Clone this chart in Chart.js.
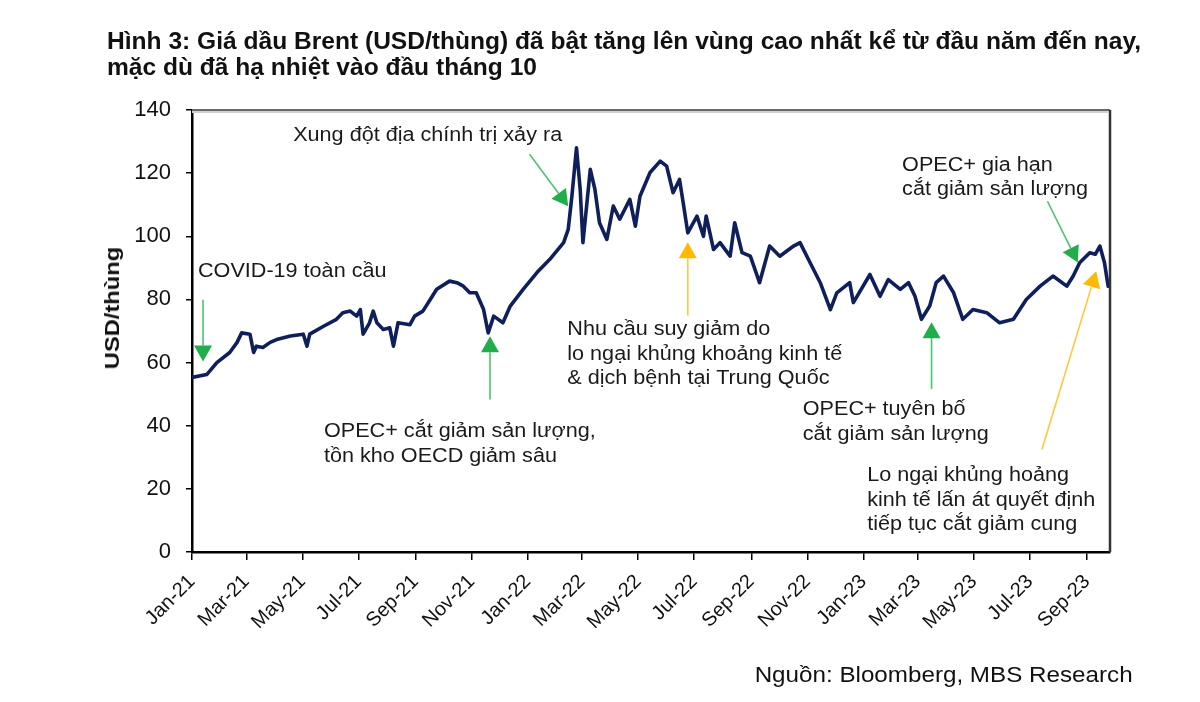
<!DOCTYPE html>
<html>
<head>
<meta charset="utf-8">
<script src="https://cdn.jsdelivr.net/npm/chart.js@4"></script>
<style>
  body { margin: 0; background: #fff; }
  #wrap { position: relative; width: 1200px; height: 702px; overflow: hidden; }
  #title { position: absolute; left: 107px; top: 28px; font: bold 23px "Liberation Sans", Arial, sans-serif; line-height: 26px; color: #111; white-space: nowrap; transform: scaleX(1.068); transform-origin: left top; }
  #ytitle { position: absolute; left: 112px; top: 308px; transform: translate(-50%, -50%) rotate(-90deg) scaleX(1.13); font: bold 21px "Liberation Sans", Arial, sans-serif; color: #111; white-space: nowrap; }
  #source { position: absolute; right: 67px; top: 662px; font: 22px "Liberation Sans", Arial, sans-serif; color: #111; white-space: nowrap; transform: scaleX(1.1); transform-origin: right top; }
  canvas { position: absolute; left: 0; top: 0; }
</style>
</head>
<body>
<div id="wrap">
  <canvas id="brentChart" width="1200" height="702"></canvas>
  <div id="title">Hình 3: Giá dầu Brent (USD/thùng) đã bật tăng lên vùng cao nhất kể từ đầu năm đến nay,<br>mặc dù đã hạ nhiệt vào đầu tháng 10</div>
  <div id="ytitle">USD/thùng</div>
  <div id="source">Nguồn: Bloomberg, MBS Research</div>
</div>
<script>
// days counted from 1 Jan 2021
const days = [0, 16, 27, 41, 49, 54, 63, 67, 70, 77, 85, 92, 107, 121, 125, 128, 143, 157, 164, 172,
  179, 183, 186, 193, 197, 201, 208, 215, 219, 224, 237, 242, 251, 259, 266, 280, 288, 295, 302, 309,
  317, 322, 328, 338, 346, 360, 375, 389, 404, 409, 413, 418, 422, 425, 433, 438, 443, 451, 458, 465,
  476, 482, 487, 498, 509, 516, 523, 530, 534, 539, 549, 556, 559, 567, 574, 585, 590, 598, 607, 617,
  628, 639, 654, 661, 672, 683, 694, 701, 715, 719, 737, 748, 757, 770, 779, 786, 793, 802, 809, 817,
  828, 838, 849, 864, 878, 893, 907, 922, 936, 951, 958, 965, 976, 982, 987, 992, 996, 998];
const brent = [55.3, 56.2, 60.0, 63.2, 66.4, 69.4, 69.0, 63.2, 65.2, 64.8, 66.4, 67.3, 68.4, 69.0, 65.2, 69.0, 71.5, 73.7, 75.8, 76.3,
  74.7, 76.8, 69.0, 72.6, 76.3, 72.6, 70.5, 71.0, 65.2, 72.6, 72.0, 74.7, 76.3, 80.0, 83.2, 85.8, 85.3, 84.2, 82.1, 82.1,
  76.8, 69.4, 74.7, 72.6, 77.9, 83.2, 88.5, 92.7, 98.0, 102.2, 112.7, 128.0, 114.9, 98.0, 121.2, 114.9, 104.3, 99.0, 109.6, 105.4,
  111.7, 103.2, 112.7, 120.2, 123.8, 122.2, 113.8, 118.0, 110.6, 101.1, 106.4, 100.0, 106.4, 95.8, 98.0, 93.7, 104.3, 94.8, 93.7, 85.3,
  96.9, 93.7, 96.9, 98.0, 91.6, 85.3, 76.8, 82.1, 85.3, 79.0, 87.9, 81.0, 86.3, 83.2, 85.3, 81.0, 73.7, 77.9, 85.3, 87.4,
  82.1, 73.7, 76.8, 75.8, 72.6, 73.7, 80.0, 84.2, 87.4, 84.2, 87.4, 91.6, 94.8, 94.3, 96.9, 91.6, 84.2, 86.3];

const tickDates = ['2021-01-01', '2021-03-01', '2021-05-01', '2021-07-01', '2021-09-01', '2021-11-01',
  '2022-01-01', '2022-03-01', '2022-05-01', '2022-07-01', '2022-09-01', '2022-11-01',
  '2023-01-01', '2023-03-01', '2023-05-01', '2023-07-01', '2023-09-01'];
const tickLabels = ['Jan-21', 'Mar-21', 'May-21', 'Jul-21', 'Sep-21', 'Nov-21', 'Jan-22', 'Mar-22', 'May-22',
  'Jul-22', 'Sep-22', 'Nov-22', 'Jan-23', 'Mar-23', 'May-23', 'Jul-23', 'Sep-23'];
const yTicks = [0, 20, 40, 60, 80, 100, 120, 140];

// annotation texts, anchored at (day, value) of their first line
const notes = [
  { lines: ['COVID-19 toàn cầu'], day: 6.5, val: 88.9 },
  { lines: ['Xung đột địa chính trị xảy ra'], day: 110, val: 132 },
  { lines: ['Nhu cầu suy giảm do', 'lo ngại khủng khoảng kinh tế', '& dịch bệnh tại Trung Quốc'], day: 408, val: 70.4 },
  { lines: ['OPEC+ cắt giảm sản lượng,', 'tồn kho OECD giảm sâu'], day: 143.5, val: 38.2 },
  { lines: ['OPEC+ tuyên bố', 'cắt giảm sản lượng'], day: 664, val: 45.1 },
  { lines: ['OPEC+ gia hạn', 'cắt giảm sản lượng'], day: 772, val: 122.5 },
  { lines: ['Lo ngại khủng hoảng', 'kinh tế lấn át quyết định', 'tiếp tục cắt giảm cung'], day: 734, val: 24.2 }
];
const arrows = [
  { from: [12, 79.9], to: [12, 60.3], kind: 'green' },
  { from: [367, 126.0], to: [409, 109.5], kind: 'green' },
  { from: [539, 74.9], to: [539, 98.1], kind: 'yellow' },
  { from: [324, 48.3], to: [324, 68.3], kind: 'green' },
  { from: [804, 51.6], to: [804, 72.8], kind: 'green' },
  { from: [930, 111.1], to: [963, 91.7], kind: 'green' },
  { from: [924, 32.5], to: [983, 88.9], kind: 'yellow' }
];
const arrowColors = {
  green: { line: '#4cc36e', head: '#1fae4b' },
  yellow: { line: '#ffc73a', head: '#ffba00' }
};

const dayOf = s => (Date.parse(s) - Date.parse('2021-01-01')) / 86400000;

const annotate = {
  id: 'annotate',
  afterDatasetsDraw(chart) {
    const { ctx, chartArea: a, scales: { x, y } } = chart;
    ctx.save();
    // frame: grey top, dark right
    ctx.strokeStyle = '#d0d0d0';
    ctx.lineWidth = 2;
    ctx.beginPath();
    ctx.moveTo(a.left, a.top + 2); ctx.lineTo(a.right - 2, a.top + 2);
    ctx.stroke();
    ctx.strokeStyle = '#6a6a6a';
    ctx.lineWidth = 2;
    ctx.beginPath();
    ctx.moveTo(a.left, a.top); ctx.lineTo(a.right, a.top);
    ctx.stroke();
    ctx.strokeStyle = '#333';
    ctx.lineWidth = 2.5;
    ctx.beginPath();
    ctx.moveTo(a.right, a.top); ctx.lineTo(a.right, a.bottom);
    ctx.stroke();

    ctx.font = '20px "Liberation Sans", Arial, sans-serif';
    ctx.fillStyle = '#1a1a1a';
    ctx.textBaseline = 'middle';
    ctx.textAlign = 'left';
    notes.forEach(n => {
      const px = x.getPixelForValue(n.day);
      const py = y.getPixelForValue(n.val);
      n.lines.forEach((t, i) => {
        ctx.save();
        ctx.translate(px, py + i * 24.6);
        ctx.scale(1.08, 1);
        ctx.fillText(t, 0, 0);
        ctx.restore();
      });
    });

    arrows.forEach(ar => {
      const x0 = x.getPixelForValue(ar.from[0]), y0 = y.getPixelForValue(ar.from[1]);
      const x1 = x.getPixelForValue(ar.to[0]), y1 = y.getPixelForValue(ar.to[1]);
      const ang = Math.atan2(y1 - y0, x1 - x0);
      const len = 16, half = 9;
      const bx = x1 - len * Math.cos(ang), by = y1 - len * Math.sin(ang);
      const c = arrowColors[ar.kind];
      ctx.strokeStyle = c.line;
      ctx.lineWidth = 1.6;
      ctx.beginPath();
      ctx.moveTo(x0, y0); ctx.lineTo(bx, by);
      ctx.stroke();
      ctx.fillStyle = c.head;
      ctx.beginPath();
      ctx.moveTo(x1, y1);
      ctx.lineTo(bx + half * Math.sin(ang), by - half * Math.cos(ang));
      ctx.lineTo(bx - half * Math.sin(ang), by + half * Math.cos(ang));
      ctx.closePath();
      ctx.fill();
    });
    ctx.restore();
  }
};

new Chart(document.getElementById('brentChart'), {
  type: 'line',
  data: {
    datasets: [{
      data: days.map((d, i) => ({ x: d, y: brent[i] })),
      borderColor: '#0e1f5b',
      borderWidth: 3.6,
      borderJoinStyle: 'round',
      pointRadius: 0,
      tension: 0
    }]
  },
  options: {
    responsive: false,
    animation: false,
    layout: { padding: { left: 0, top: 110, right: 90, bottom: 0 } },
    plugins: { legend: { display: false }, tooltip: { enabled: false } },
    scales: {
      x: {
        type: 'linear',
        min: 0,
        max: 998,
        afterBuildTicks: axis => { axis.ticks = tickDates.map(d => ({ value: dayOf(d) })); },
        afterFit: s => { s.height = 150; },
        grid: { drawOnChartArea: false, color: '#000', tickLength: 8, lineWidth: 1.5 },
        border: { color: '#000', width: 2.5 },
        ticks: {
          autoSkip: false,
          minRotation: 45,
          maxRotation: 45,
          padding: 10,
          color: '#111',
          font: { family: '"Liberation Sans", Arial, sans-serif', size: 20 },
          callback: (v, i) => tickLabels[i]
        }
      },
      y: {
        min: 0,
        max: 140,
        afterBuildTicks: axis => { axis.ticks = yTicks.map(v => ({ value: v })); },
        afterFit: s => { s.width = 192; },
        grid: { drawOnChartArea: false, color: '#000', tickLength: 6, lineWidth: 1.5 },
        border: { color: '#000', width: 2.5 },
        ticks: {
          padding: 15,
          color: '#111',
          font: { family: '"Liberation Sans", Arial, sans-serif', size: 22 }
        }
      }
    }
  },
  plugins: [annotate]
});
</script>
</body>
</html>
